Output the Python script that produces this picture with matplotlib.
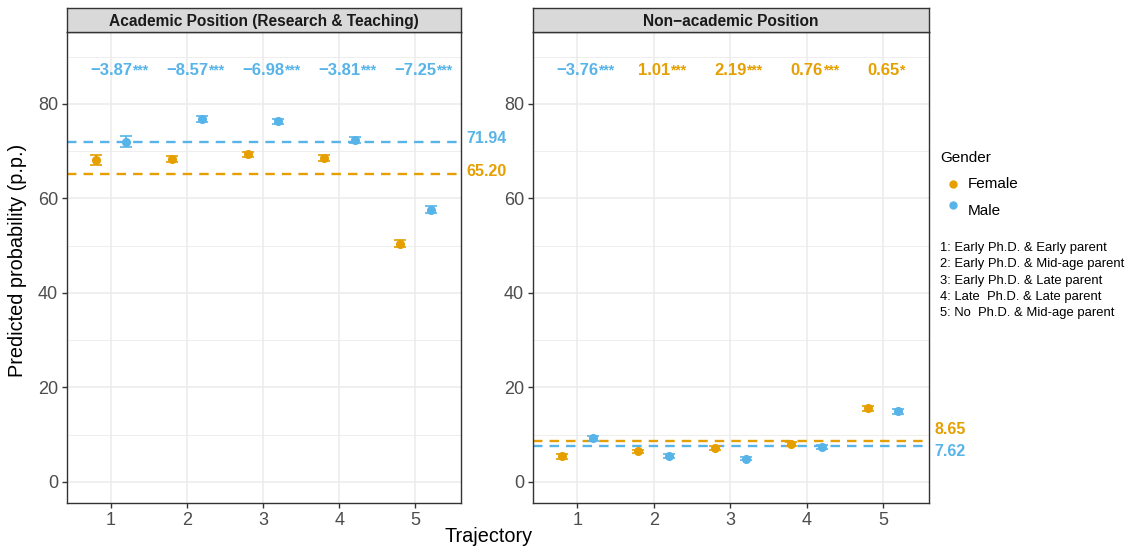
import matplotlib
matplotlib.use("Agg")
import matplotlib.pyplot as plt
import numpy as np

plt.rcParams['font.family'] = ['Liberation Sans', 'DejaVu Sans']

# data
trajectories = [1, 2, 3, 4, 5]
panels = ["Academic Position (Research & Teaching)", "Non\u2212academic Position"]

acad_female = [68.1, 68.3, 69.3, 68.6, 50.4]
acad_female_err = [1.1, 0.6, 0.6, 0.6, 0.7]
acad_male = [72.0, 76.8, 76.3, 72.4, 57.6]
acad_male_err = [1.1, 0.6, 0.5, 0.6, 0.7]

nonac_female = [5.45, 6.45, 7.15, 8.1, 15.55]
nonac_female_err = [0.5, 0.4, 0.4, 0.4, 0.5]
nonac_male = [9.2, 5.45, 4.95, 7.35, 14.95]
nonac_male_err = [0.5, 0.4, 0.4, 0.4, 0.5]

acad_mean = {"Female": 65.20, "Male": 71.94}
nonac_mean = {"Female": 8.65, "Male": 7.62}

acad_diff = [-3.87, -8.57, -6.98, -3.81, -7.25]
acad_stars = ["***", "***", "***", "***", "***"]
nonac_diff = [-3.76, 1.01, 2.19, 0.76, 0.65]
nonac_stars = ["***", "***", "***", "***", "*"]

legend_lines = ["1: Early Ph.D. & Early parent",
                "2: Early Ph.D. & Mid-age parent",
                "3: Early Ph.D. & Late parent",
                "4: Late  Ph.D. & Late parent",
                "5: No  Ph.D. & Mid-age parent"]

ORANGE = "#E69F00"
BLUE = "#56B4E9"
W, H = 1129, 550
TOP, BOT = 32, 503

fig = plt.figure(figsize=(W / 100, H / 100), dpi=100)

def panel(x0, x1, title, fem, fem_err, mal, mal_err, means, diffs, stars, mean_label_y):
    ax = fig.add_axes([x0 / W, 1 - BOT / H, (x1 - x0) / W, (BOT - TOP) / H])
    ax.set_xlim(0.42, 5.6)
    ax.set_ylim(-4.45, 95.2)
    for y in [10, 30, 50, 70, 90]:
        ax.axhline(y, color="#EBEBEB", lw=0.6, zorder=0)
    for y in [0, 20, 40, 60, 80]:
        ax.axhline(y, color="#EBEBEB", lw=1.1, zorder=0)
    for x in trajectories:
        ax.axvline(x, color="#EBEBEB", lw=1.1, zorder=0)
    x = np.array(trajectories)
    ax.errorbar(x - 0.2, fem, yerr=fem_err, fmt="o", color=ORANGE, ms=5.5,
                capsize=4, elinewidth=1.2, capthick=1.2, zorder=3)
    ax.errorbar(x + 0.2, mal, yerr=mal_err, fmt="o", color=BLUE, ms=5.5,
                capsize=4, elinewidth=1.2, capthick=1.2, zorder=3)
    ax.axhline(means["Female"], color=ORANGE, lw=1.7, dashes=(4, 3), zorder=2)
    ax.axhline(means["Male"], color=BLUE, lw=1.7, dashes=(4, 3), zorder=2)
    for g, col in [("Female", ORANGE), ("Male", BLUE)]:
        ax.text(5.67, mean_label_y[g], "%.2f" % means[g], color=col, fontsize=11.5,
                fontweight="bold", va="center", ha="left", clip_on=False)
    for xi, d, s in zip(trajectories, diffs, stars):
        col = BLUE if d < 0 else ORANGE
        t = ax.text(xi, 87, ("%.2f" % d).replace("-", "\u2212"), color=col,
                    fontsize=12, fontweight="bold", ha="center", va="center")
        ax.annotate(s, xy=(1, 1.0), xycoords=t, color=col, fontsize=10,
                    fontweight="bold", ha="left", va="top")
    ax.set_xticks(trajectories)
    ax.set_yticks([0, 20, 40, 60, 80])
    ax.tick_params(labelsize=13, labelcolor="#4D4D4D", color="#333333",
                   length=3.5, width=1, pad=3)
    for sp in ax.spines.values():
        sp.set_color("#333333")
        sp.set_linewidth(1.0)
    # strip
    sax = fig.add_axes([x0 / W, 1 - TOP / H, (x1 - x0) / W, 24 / H])
    sax.set_facecolor("#D9D9D9")
    sax.set_xticks([])
    sax.set_yticks([])
    for sp in sax.spines.values():
        sp.set_color("#333333")
        sp.set_linewidth(1.0)
    sax.text(0.5, 0.45, title, ha="center", va="center", fontsize=11.2,
             fontweight="bold", color="#1A1A1A", transform=sax.transAxes)
    return ax

ax1 = panel(67, 461, panels[0], acad_female, acad_female_err, acad_male, acad_male_err,
            acad_mean, acad_diff, acad_stars, {"Female": 65.6, "Male": 72.6})
ax2 = panel(533, 929, panels[1], nonac_female, nonac_female_err, nonac_male, nonac_male_err,
            nonac_mean, nonac_diff, nonac_stars, {"Female": 11.2, "Male": 6.4})

fig.text(18 / W, 1 - 260 / H, "Predicted probability (p.p.)", fontsize=14.3,
         rotation=90, ha="center", va="center")
fig.text(489 / W, 1 - 536 / H, "Trajectory", fontsize=14.3, ha="center", va="center")

# legend
lax = fig.add_axes([0, 0, 1, 1], facecolor="none")
lax.set_xlim(0, W)
lax.set_ylim(H, 0)
lax.axis("off")
lax.text(940, 158, "Gender", fontsize=11, va="center", ha="left")
lax.plot([953], [184], "o", color=ORANGE, ms=5)
lax.plot([953], [205], "o", color=BLUE, ms=5)
lax.text(968, 184, "Female", fontsize=11, va="center", ha="left")
lax.text(968, 211, "Male", fontsize=11, va="center", ha="left")
for i, line in enumerate(legend_lines):
    lax.text(940, 248 + i * 16.3, line, fontsize=9.4, va="center", ha="left")

fig.savefig("out.png", dpi=100)
